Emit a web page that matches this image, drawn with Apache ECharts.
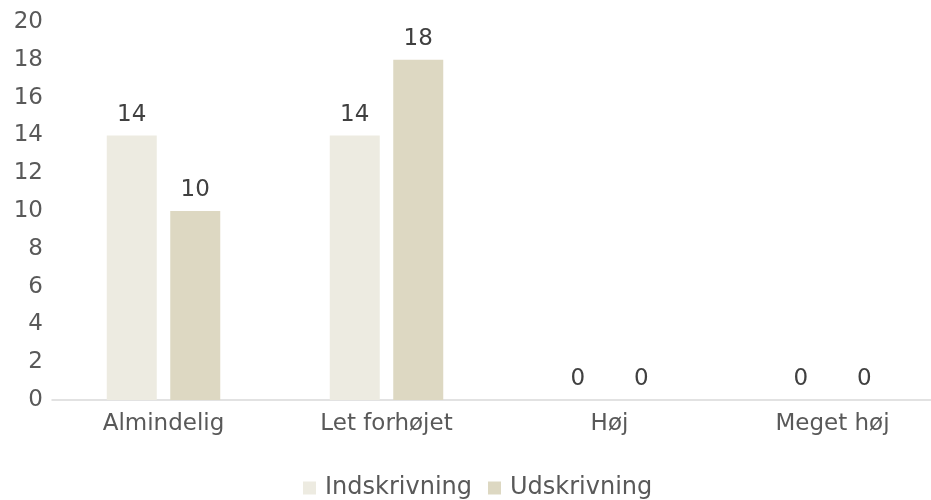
<!DOCTYPE html>
<html>
<head>
<meta charset="utf-8">
<script src="https://cdn.jsdelivr.net/npm/echarts@6/dist/echarts.min.js"></script>
<style>
  html, body { margin: 0; padding: 0; background: #fff; }
  #chart { width: 931px; height: 500px; }
</style>
</head>
<body>
<div id="chart"></div>
<script>
const categories = ["Almindelig", "Let forhøjet", "Høj", "Meget høj"];
const indskrivning = [14, 14, 0, 0];
const udskrivning = [10, 18, 0, 0];
const yTicks = [0, 2, 4, 6, 8, 10, 12, 14, 16, 18, 20];

var dom = document.getElementById("chart");
var myChart = echarts.init(dom);
const font = "DejaVu Sans, Verdana, sans-serif";

const labelStyle = {
  show: true,
  position: "top",
  distance: 9,
  color: "#404040",
  fontSize: 23,
  fontFamily: font,
};

const option = {
  animation: false,
  textStyle: { fontFamily: font },
  // grid runs past the right edge like the original
  grid: {
    left: 52,
    width: 892,
    top: 22,
    height: 378,
    containLabel: false,
    outerBoundsMode: "none",
  },
  legend: {
    bottom: 0,
    padding: 0,
    left: 303,
    itemWidth: 13,
    itemHeight: 13,
    itemGap: 16,
    icon: "rect",
    textStyle: {
      color: "#595959",
      fontSize: 24,
      fontFamily: font,
      padding: [0, 0, 0, 4],
    },
    data: ["Indskrivning", "Udskrivning"],
  },
  xAxis: {
    type: "category",
    data: categories,
    axisTick: { show: false },
    axisLine: { lineStyle: { color: "#D9D9D9", width: 1.5 } },
    axisLabel: { color: "#595959", fontSize: 23, fontFamily: font, margin: 13 },
  },
  yAxis: {
    type: "value",
    min: yTicks[0],
    max: yTicks[yTicks.length - 1],
    interval: 2,
    splitLine: { show: false },
    axisLine: { show: false },
    axisTick: { show: false },
    axisLabel: { color: "#595959", fontSize: 23, fontFamily: font, margin: 9 },
  },
  series: [
    {
      name: "Indskrivning",
      type: "bar",
      data: indskrivning,
      barWidth: 50,
      barGap: "27%",
      itemStyle: { color: "#EDEBE1" },
      label: labelStyle,
    },
    {
      name: "Udskrivning",
      type: "bar",
      data: udskrivning,
      barWidth: 50,
      itemStyle: { color: "#DDD8C2" },
      label: labelStyle,
    },
  ],
};

myChart.setOption(option);
</script>
</body>
</html>
